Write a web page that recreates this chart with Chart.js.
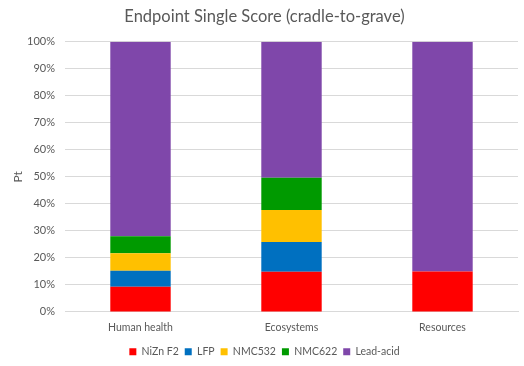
<!DOCTYPE html>
<html><head><meta charset="utf-8">
<script src="https://cdn.jsdelivr.net/npm/chart.js@4"></script>
<style>html,body{margin:0;padding:0;background:#fff}#wrap{width:524px;height:366px}</style>
</head><body><div id="wrap"><canvas id="c" width="524" height="366"></canvas></div>
<script>
const categories = ["Human health", "Ecosystems", "Resources"];
const seriesNames = ["NiZn F2", "LFP", "NMC532", "NMC622", "Lead-acid"];
const nizn = [9.3, 14.9, 15.0];
const lfp = [5.9, 11.0, 0];
const nmc532 = [6.5, 11.8, 0];
const nmc622 = [6.3, 12.0, 0];
const leadAcid = [72.0, 50.3, 85.0];
const tickValues = [0,10,20,30,40,50,60,70,80,90,100];
const colors = ["#FF0000", "#0070C0", "#FFC000", "#009A00", "#7F47AA"];
const values = [nizn, lfp, nmc532, nmc622, leadAcid];
const FONT = "Lato, 'Open Sans', sans-serif";
const TXT = "#595959";
const SHIFT = 2;
const legendTweak = {
  id:'legendTweak',
  beforeLayout(chart){
    const lg = chart.legend;
    if (lg && !lg._tw){
      lg._tw = true;
      const f = lg.fit.bind(lg);
      lg.fit = function(){ f(); this.height -= SHIFT; };
      const d = lg.draw.bind(lg);
      lg.draw = function(){ this.top -= SHIFT; this.bottom -= SHIFT; d(); this.top += SHIFT; this.bottom += SHIFT; };
    }
  }
};
new Chart(document.getElementById('c'), {
  type: 'bar',
  data: {
    labels: categories,
    datasets: seriesNames.map((n,i)=>({label:n,data:values[i],backgroundColor:colors[i],borderWidth:0,barPercentage:0.4,categoryPercentage:1}))
  },
  plugins:[legendTweak],
  options: {
    responsive:false, animation:false,
    layout:{padding:{left:11,right:6,top:7,bottom:-1}},
    plugins:{
      title:{display:true,text:"Endpoint Single Score (cradle-to-grave)",color:TXT,font:{family:FONT,size:16.5,weight:'normal'},padding:{top:0,bottom:15}},
      legend:{position:'bottom',labels:{boxWidth:7,boxHeight:7,color:TXT,font:{family:FONT,size:10.5},padding:6}},
      tooltip:{enabled:false}
    },
    scales:{
      x:{stacked:true,grid:{display:false,drawTicks:false},border:{color:"#d9d9d9"},ticks:{color:TXT,font:{family:FONT,size:10.5},padding:9}},
      y:{stacked:true,min:0,max:100,afterBuildTicks:(s)=>{s.ticks=tickValues.map(v=>({value:v}));},
        afterFit:(s)=>{s.width=54;},
        grid:{color:"#d9d9d9",drawTicks:false},border:{display:false},
        ticks:{color:TXT,font:{family:FONT,size:11},padding:10,callback:v=>v+'%'},
        title:{display:true,text:"Pt",color:TXT,font:{family:FONT,size:12},padding:{top:0,bottom:6}}}
    }
  }
});
</script></body></html>
